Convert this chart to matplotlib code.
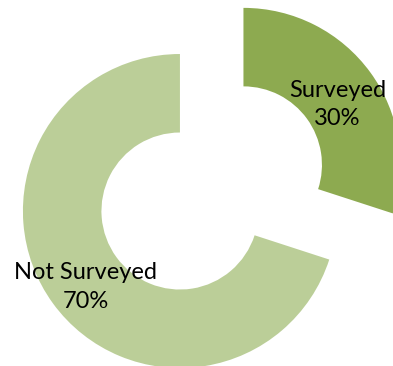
import numpy as np
import matplotlib
matplotlib.use('Agg')
import matplotlib.pyplot as plt

# Survey coverage split
labels = ['Surveyed', 'Not Surveyed']
values = [30, 70]
colors = ['#8daa50', '#bbce98']
explode = [0.5, 0.0]

plt.rcParams['font.family'] = ['Lato', 'DejaVu Sans']

fig = plt.figure(figsize=(3.93, 3.66), dpi=100)
ax = fig.add_axes([0, 0, 1, 1])

wedges, _ = ax.pie(values, colors=colors, explode=explode, startangle=90,
                   counterclock=False, radius=1.0,
                   wedgeprops=dict(width=0.5, edgecolor='none'))

# Labels sit inside each ring segment, at its mid angle
total = sum(values)
for w, lab, v, exp in zip(wedges, labels, values, explode):
    mid = np.deg2rad((w.theta1 + w.theta2) / 2)
    r = 0.74 + exp
    ax.text(r * np.cos(mid), r * np.sin(mid) - 0.05,
            f"{lab}\n{round(100 * v / total)}%",
            ha='center', va='center', fontsize=17, color='black',
            linespacing=1.45)

ax.set_xlim(-1.146, 1.357)
ax.set_ylim(-0.987, 1.344)
ax.set_aspect('equal')
ax.axis('off')

fig.savefig('out.png', dpi=100)
